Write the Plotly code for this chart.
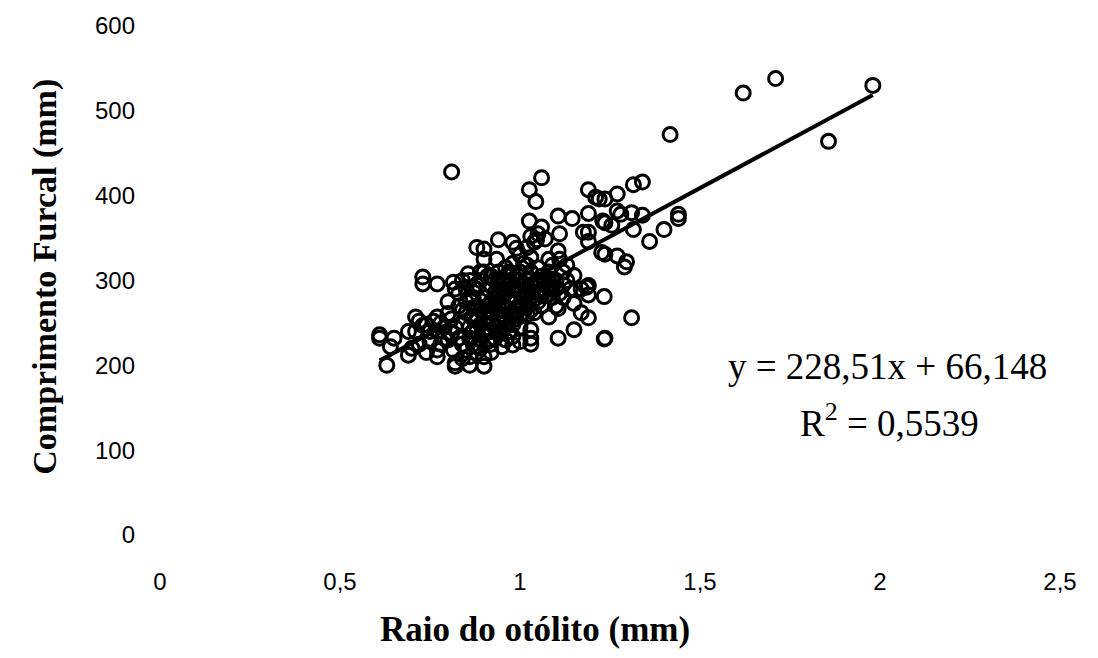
import plotly.graph_objects as go

# Data: otolith radius (mm) vs fork length (mm)
raio = [
    0.61, 0.61, 0.63, 0.65, 0.64, 0.69, 0.69, 0.70, 0.71, 0.72, 0.73, 0.73, 0.73, 0.74, 0.75,
    0.77, 0.77, 0.77, 0.77, 0.77, 0.78, 0.79,
    0.81, 0.815, 0.82, 0.80, 0.81, 0.815, 0.82, 0.82, 0.83, 0.84, 0.84,
    0.856, 0.86, 0.86, 0.87, 0.87, 0.88, 0.88, 0.89, 0.89,
    0.90, 0.90, 0.90, 0.90, 0.90, 0.91, 0.91, 0.92, 0.92,
    0.935, 0.94, 0.94, 0.94, 0.95, 0.95, 0.95, 0.96,
    0.98, 0.98, 0.98, 0.98, 0.98, 0.98, 0.98, 0.99,
    1.02, 1.026, 1.026, 1.03, 1.03, 1.03, 1.03, 1.03, 1.02, 1.02,
    1.044, 1.046, 1.06, 1.06, 1.05, 1.05, 1.06,
    1.07, 1.08, 1.08, 1.09, 1.10, 1.11, 1.106, 1.106, 1.11, 1.106, 1.106, 1.12, 1.12,
    1.145, 1.15, 1.15, 1.15, 1.17, 1.17, 1.176, 1.185, 1.19, 1.19, 1.19, 1.19, 1.19, 1.19, 1.19,
    1.21, 1.227, 1.23, 1.234, 1.234, 1.236, 1.236, 1.255, 1.27, 1.27, 1.27, 1.28, 1.29, 1.296,
    1.31, 1.31, 1.315, 1.315, 1.34, 1.34, 1.36, 1.40, 1.44, 1.44,
    1.417, 1.62, 1.71, 1.98, 1.857, 1.22, 1.236, 1.236,
    0.83, 0.84, 0.85, 0.85, 0.86, 0.86, 0.87, 0.87, 0.88, 0.88, 0.89, 0.89, 0.90, 0.90, 0.90,
    0.91, 0.91, 0.92, 0.92, 0.92, 0.93, 0.93, 0.93, 0.94, 0.94, 0.95, 0.95, 0.96, 0.96, 0.96,
    0.97, 0.97, 0.97, 0.98, 0.99, 0.99, 1.00, 1.00, 1.00, 1.00, 1.01, 1.01, 1.02, 1.02,
    1.04, 1.04, 1.04, 1.05, 1.06, 1.06, 1.07, 1.07, 1.08, 1.08, 1.09, 1.09, 1.10, 1.10,
    1.11, 1.12, 1.13, 1.13, 1.14,
    0.86, 0.84, 0.88, 0.92, 0.95, 1.00, 1.03,
    0.99, 1.00, 1.02, 1.03, 1.04, 1.05,
    0.80, 0.81, 0.82, 0.83, 0.84, 0.85, 0.85, 0.86, 0.87, 0.87, 0.88, 0.88, 0.89, 0.89,
    0.90, 0.91, 0.91, 0.92, 0.92, 0.93, 0.93, 0.94, 0.94, 0.95, 0.95, 0.96, 0.96, 0.97,
    0.97, 0.98, 0.99, 0.99, 1.00, 1.00, 1.01, 1.01, 1.02, 1.03, 1.03, 1.05, 1.05, 1.06,
    1.08, 1.09, 0.74, 0.75, 0.76, 0.78, 0.79, 0.80, 0.72, 0.71,
]
comprimento = [
    236, 232, 200, 232, 222, 212, 240, 220, 257, 252, 304, 296, 247, 215, 240,
    296, 257, 240, 218, 210, 250, 232,
    428, 298, 290, 261, 238, 218, 203, 199, 270, 250, 225,
    308, 300, 210, 280, 255, 339, 240, 265, 230,
    337, 325, 310, 210, 199, 290, 270, 250, 225,
    325, 348, 310, 300, 280, 260, 240, 230,
    345, 308, 290, 263, 248, 234, 224, 275,
    339, 407, 370, 327, 310, 295, 242, 232, 270, 260,
    393, 348, 421, 363, 300, 285, 270,
    349, 325, 257, 300, 290, 355, 376, 335, 325, 267, 232, 310, 295,
    373, 306, 273, 242, 290, 262, 357, 292, 407, 379, 357, 346, 294, 283, 256,
    398, 333, 370, 281, 231, 396, 368, 365, 402, 382, 329, 378, 316, 322,
    380, 256, 413, 360, 416, 377, 346, 360, 378, 373,
    472, 521, 538, 530, 464, 396, 331, 232,
    285, 300, 275, 262, 245, 232, 268, 292, 255, 222, 300, 248, 280, 262, 238,
    305, 255, 295, 275, 262, 285, 245, 232, 270, 255, 300, 290, 315, 268, 250,
    282, 295, 240, 320, 300, 255, 285, 270, 245, 310, 295, 262, 283, 300,
    278, 292, 262, 315, 290, 305, 282, 298, 310, 290, 280, 318, 300, 270,
    285, 280, 300, 318, 290,
    200, 208, 215, 215, 222, 228, 225,
    338, 330, 318, 352, 345, 355,
    275, 255, 245, 232, 265, 290, 218, 280, 240, 225, 270, 290, 310, 220,
    250, 240, 228, 305, 240, 300, 268, 285, 240, 270, 250, 290, 300, 260,
    310, 280, 290, 265, 300, 258, 280, 320, 290, 280, 265, 295, 275, 282,
    300, 292, 248, 228, 252, 225, 245, 230, 225, 240,
]

# Trendline coefficients printed on the chart
slope = 228.51
intercept = 66.148
x_ticks = [0, 0.5, 1, 1.5, 2, 2.5]
x_ticktext = ["0", "0,5", "1", "1,5", "2", "2,5"]
y_ticks = [0, 100, 200, 300, 400, 500, 600]

x_line = [min(raio), max(raio)]
y_line = [slope * v + intercept for v in x_line]

fig = go.Figure()
fig.add_trace(go.Scatter(
    x=raio, y=comprimento, mode="markers",
    marker=dict(symbol="circle-open", size=14, color="black", line=dict(width=3, color="black")),
    showlegend=False,
))
fig.add_trace(go.Scatter(
    x=x_line, y=y_line, mode="lines",
    line=dict(color="black", width=4), showlegend=False,
))

tick_font = dict(family="Liberation Sans, Arial", size=24, color="black")
serif = "Liberation Serif, Times New Roman"
fig.update_layout(
    width=1098, height=658,
    margin=dict(l=160, r=38, t=22, b=123),
    paper_bgcolor="white", plot_bgcolor="white",
    xaxis=dict(range=[0, 2.5], tickvals=x_ticks, ticktext=x_ticktext, showgrid=False,
               zeroline=False, showline=False, ticks="", tickfont=tick_font,
               ticklabelstandoff=30),
    yaxis=dict(range=[0, 600], tickvals=y_ticks, showgrid=False, zeroline=False,
               showline=False, ticks="", tickfont=tick_font, ticklabelstandoff=24),
    annotations=[
        dict(text="<b>Raio do otólito (mm)</b>", xref="paper", yref="paper",
             x=0.4167, y=-0.185, showarrow=False, xanchor="center", yanchor="middle",
             font=dict(family=serif, size=35, color="black")),
        dict(text="<b>Comprimento Furcal (mm)</b>", xref="paper", yref="paper",
             x=-0.128, y=0.507, showarrow=False, textangle=-90, xanchor="center", yanchor="middle",
             font=dict(family=serif, size=34, color="black")),
        dict(text="y = 228,51x + 66,148", xref="x", yref="y", x=2.02, y=199, showarrow=False,
             xanchor="center", yanchor="middle",
             font=dict(family=serif, size=37, color="black")),
        dict(text="R<sup>2</sup> = 0,5539", xref="x", yref="y", x=2.025, y=134.5, showarrow=False,
             xanchor="center", yanchor="middle",
             font=dict(family=serif, size=37, color="black")),
    ],
)

fig.write_html("out.html")
